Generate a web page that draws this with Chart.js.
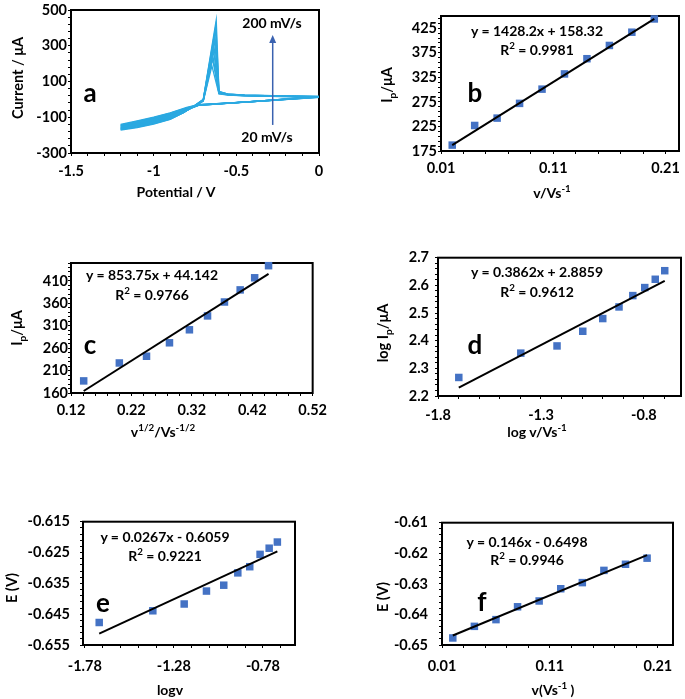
<!DOCTYPE html>
<html>
<head>
<meta charset="utf-8">
<script src="https://cdn.jsdelivr.net/npm/chart.js@4.4.0/dist/chart.umd.min.js"></script>
<style>
  html, body { margin: 0; background: #fff; overflow: hidden; }
  #fig { position: relative; width: 685px; height: 699px; overflow: hidden;
         font-family: Lato, 'Open Sans', sans-serif; font-weight: 700; color: #000; }
  canvas { position: absolute; }
  .t { position: absolute; white-space: nowrap; line-height: 1; font-size: 14px;
       transform: translate(-50%, -50%); }
  .rot { transform: translate(-50%, -50%) rotate(-90deg); font-size: 14.5px; }
  .big { font-size: 26px; }
  sup, sub { font-size: 70%; line-height: 0; }
</style>
</head>
<body>
<div id="fig">
  <canvas id="chartA"></canvas>
  <canvas id="chartB"></canvas>
  <canvas id="chartC"></canvas>
  <canvas id="chartD"></canvas>
  <canvas id="chartE"></canvas>
  <canvas id="chartF"></canvas>

  <!-- panel a -->
  <div class="t rot" style="left:18px; top:78px;">Current / μA</div>
  <div class="t" style="left:176px; top:192px;">Potential / V</div>
  <div class="t big" style="left:90px; top:92px;">a</div>
  <div class="t" style="left:272px; top:23px;">200 mV/s</div>
  <div class="t" style="left:267px; top:137px;">20 mV/s</div>

  <!-- panel b -->
  <div class="t rot" style="left:387px; top:85px;">I<sub>p</sub>/μA</div>
  <div class="t" style="left:552px; top:193px;">v/Vs<sup>-1</sup></div>
  <div class="t" style="left:537px; top:31px;">y = 1428.2x + 158.32</div>
  <div class="t" style="left:537px; top:50px;">R<sup>2</sup> = 0.9981</div>
  <div class="t big" style="left:475px; top:92px;">b</div>

  <!-- panel c -->
  <div class="t rot" style="left:17px; top:328px;">I<sub>p</sub>/μA</div>
  <div class="t" style="left:163px; top:432px;">v<sup>1/2</sup>/Vs<sup>-1/2</sup></div>
  <div class="t" style="left:152px; top:275px;">y = 853.75x + 44.142</div>
  <div class="t" style="left:152px; top:295px;">R<sup>2</sup> = 0.9766</div>
  <div class="t big" style="left:90px; top:344px;">c</div>

  <!-- panel d -->
  <div class="t rot" style="left:383px; top:333px;">log I<sub>p</sub>/μA</div>
  <div class="t" style="left:537px; top:432px;">log v/Vs<sup>-1</sup></div>
  <div class="t" style="left:537px; top:272px;">y = 0.3862x + 2.8859</div>
  <div class="t" style="left:537px; top:292px;">R<sup>2</sup> = 0.9612</div>
  <div class="t big" style="left:475px; top:344px;">d</div>

  <!-- panel e -->
  <div class="t rot" style="left:12px; top:588px;">E (V)</div>
  <div class="t" style="left:170px; top:690px;">logv</div>
  <div class="t" style="left:165px; top:537px;">y = 0.0267x - 0.6059</div>
  <div class="t" style="left:165px; top:556px;">R<sup>2</sup> = 0.9221</div>
  <div class="t big" style="left:103px; top:602px;">e</div>

  <!-- panel f -->
  <div class="t rot" style="left:383px; top:597px;">E (V)</div>
  <div class="t" style="left:553px; top:690px;">v(Vs<sup>-1</sup> )</div>
  <div class="t" style="left:527px; top:542px;">y = 0.146x - 0.6498</div>
  <div class="t" style="left:527px; top:560px;">R<sup>2</sup> = 0.9946</div>
  <div class="t big" style="left:482px; top:601px;">f</div>
</div>

<script>
// ---- data ----
const scanRate = [0.02, 0.04, 0.06, 0.08, 0.10, 0.12, 0.14, 0.16, 0.18, 0.20];
const sqrtScanRate = [0.141, 0.200, 0.245, 0.283, 0.316, 0.346, 0.374, 0.400, 0.424, 0.447];
const logScanRate = [-1.699, -1.398, -1.222, -1.097, -1.000, -0.921, -0.854, -0.796, -0.745, -0.699];
const peakCurrent = [187, 227, 242, 272, 301, 332, 363, 390, 417, 444];
const logPeakCurrent = [2.267, 2.355, 2.381, 2.434, 2.480, 2.522, 2.563, 2.592, 2.622, 2.653];
const peakPotential = [-0.6477, -0.6439, -0.6417, -0.6375, -0.6356, -0.6316, -0.6296, -0.6256, -0.6236, -0.6216];

// trendline end points
const fitBx = [0.02, 0.20],    fitBy = [186.9, 444.0];
const fitCx = [0.141, 0.447],  fitCy = [164.5, 425.8];
const fitDx = [-1.699, -0.699], fitDy = [2.230, 2.616];
const fitEx = [-1.699, -0.699], fitEy = [-0.6513, -0.6246];
const fitFx = [0.02, 0.20],    fitFy = [-0.6469, -0.6206];

// cyclic voltammograms: potential path (null = peak potential of that scan)
const cvPotential = [0, -0.35, -0.73, -0.8, -0.9, -1.0, -1.1, -1.2, -1.1, -1.0,
                     -0.9, -0.82, -0.76, -0.7, null, -0.605, -0.55, -0.45, -0.2, 0];
const cvCurrent = [
  [12, -10, -30, -45, -75, -100, -120, -140, -128, -113, -95, -70, -42, -10, 187, 30, 24, 20, 16, 12],
  [12, -10, -30, -47, -77, -102, -123, -144, -131, -116, -97, -71, -42, -9, 227, 32, 25, 20, 16, 12],
  [13, -10, -31, -49, -80, -105, -126, -147, -135, -119, -99, -71, -41, -8, 242, 34, 25, 21, 17, 13],
  [13, -9, -31, -51, -82, -107, -129, -151, -139, -122, -101, -72, -41, -7, 272, 36, 26, 21, 17, 13],
  [14, -9, -32, -52, -84, -110, -132, -155, -143, -125, -103, -72, -41, -5, 301, 37, 27, 22, 17, 14],
  [14, -9, -32, -54, -86, -112, -135, -158, -146, -128, -105, -73, -41, -4, 332, 39, 27, 22, 18, 14],
  [15, -9, -33, -55, -88, -114, -138, -162, -149, -131, -107, -73, -40, -3, 363, 40, 28, 23, 18, 15],
  [15, -8, -33, -57, -90, -116, -140, -165, -152, -133, -109, -74, -40, -2, 390, 42, 29, 23, 18, 15],
  [16, -8, -34, -58, -92, -118, -142, -168, -155, -136, -110, -74, -40, -1, 417, 43, 29, 24, 19, 16],
  [16, -8, -34, -60, -95, -120, -145, -172, -158, -138, -112, -75, -40, 0, 444, 45, 30, 24, 19, 16]
];
const arrowA = { x: -0.28, from: -143, to: 360 };

// tick labels
const aXLabels = ['-1.5', '-1', '-0.5', '0'];
const aYLabels = ['-300', '-100', '100', '300', '500'];
const bXLabels = ['0.01', '0.11', '0.21'];
const bYLabels = ['175', '225', '275', '325', '375', '425'];
const cXLabels = ['0.12', '0.22', '0.32', '0.42', '0.52'];
const cYLabels = ['160', '210', '260', '310', '360', '410'];
const dXLabels = ['-1.8', '-1.3', '-0.8'];
const dYLabels = ['2.2', '2.3', '2.4', '2.5', '2.6', '2.7'];
const eXLabels = ['-1.78', '-1.28', '-0.78'];
const eYLabels = ['-0.655', '-0.645', '-0.635', '-0.625', '-0.615'];
const fXLabels = ['0.01', '0.11', '0.21'];
const fYLabels = ['-0.65', '-0.64', '-0.63', '-0.62', '-0.61'];

// ---- drawing ----
const FONT = "Lato, 'Open Sans', sans-serif";
const Y_W = 64, X_H = 40, PAD_T = 10, PAD_R = 20;

const zip = (xs, ys) => xs.map((x, i) => ({ x: x, y: ys[i] }));

// box around the plot area
const frame = {
    id: 'frame',
    beforeDatasetsDraw(chart) {
        const { ctx, chartArea: a } = chart;
        ctx.save();
        ctx.strokeStyle = '#000';
        ctx.lineWidth = 2;
        ctx.strokeRect(a.left, a.top, a.right - a.left, a.bottom - a.top);
        ctx.restore();
    }
};

function buildAxis(c) {
    return {
        type: 'linear',
        min: c.min,
        max: c.max,
        afterBuildTicks: scale => {
            const start = parseFloat(c.labels[0]);
            const list = [];
            for (let k = -300; k <= 400; k++) {
                const v = +(start + k * c.minor).toFixed(6);
                if (v >= c.min - 1e-9 && v <= c.max + 1e-9) list.push({ value: v });
            }
            scale.ticks = list;
        },
        afterFit: scale => {
            if (scale.isHorizontal()) scale.height = X_H;
            else scale.width = Y_W;
        },
        grid: { drawOnChartArea: false, drawTicks: true, tickLength: 3, color: '#000', lineWidth: 1 },
        border: { display: true, color: '#000', width: 2 },
        ticks: {
            autoSkip: false,
            maxRotation: 0,
            minRotation: 0,
            padding: c.pad,
            color: '#000',
            font: { family: FONT, size: 14.5, weight: 'bold' },
            callback: value => {
                const hit = c.labels.find(s => Math.abs(parseFloat(s) - value) < c.minor / 10);
                return hit === undefined ? '' : hit;
            }
        }
    };
}

function makePanel(id, area, x, y, datasets, extraPlugins) {
    const cv = document.getElementById(id);
    cv.width = area.right - area.left + Y_W + PAD_R;
    cv.height = area.bottom - area.top + PAD_T + X_H;
    cv.style.left = (area.left - Y_W) + 'px';
    cv.style.top = (area.top - PAD_T) + 'px';
    return new Chart(cv, {
        type: 'scatter',
        data: { datasets: datasets },
        options: {
            responsive: false,
            animation: false,
            events: [],
            layout: { padding: { top: PAD_T, right: PAD_R, left: 0, bottom: 0 }, autoPadding: false },
            plugins: { legend: { display: false }, tooltip: { enabled: false } },
            scales: { x: buildAxis(x), y: buildAxis(y) }
        },
        plugins: [frame].concat(extraPlugins || [])
    });
}

function markers(xs, ys) {
    return {
        data: zip(xs, ys),
        pointStyle: 'rect',
        pointRadius: 5.3,
        backgroundColor: '#4472C4',
        borderColor: '#4472C4',
        borderWidth: 0,
        showLine: false,
        clip: false
    };
}

function fitLine(xs, ys) {
    return {
        data: zip(xs, ys),
        showLine: true,
        borderColor: '#000',
        borderWidth: 2,
        pointRadius: 0,
        clip: false
    };
}

// arrow annotation of panel a
const arrowPlugin = {
    id: 'arrow',
    afterDatasetsDraw(chart) {
        const { ctx, scales } = chart;
        const px = scales.x.getPixelForValue(arrowA.x);
        const y0 = scales.y.getPixelForValue(arrowA.from);
        const y1 = scales.y.getPixelForValue(arrowA.to);
        ctx.save();
        ctx.strokeStyle = '#3A62B0';
        ctx.fillStyle = '#3A62B0';
        ctx.lineWidth = 1.5;
        ctx.beginPath();
        ctx.moveTo(px, y0);
        ctx.lineTo(px, y1 + 6);
        ctx.stroke();
        ctx.beginPath();
        ctx.moveTo(px, y1);
        ctx.lineTo(px - 3.5, y1 + 8);
        ctx.lineTo(px + 3.5, y1 + 8);
        ctx.closePath();
        ctx.fill();
        ctx.restore();
    }
};

const cvDatasets = cvCurrent.map((cur, i) => ({
    data: cur.map((I, j) => ({ x: cvPotential[j] === null ? peakPotential[i] : cvPotential[j], y: I })),
    showLine: true,
    pointRadius: 0,
    borderColor: '#2BA9E1',
    borderWidth: 1.3,
    tension: 0
}));

makePanel('chartA', { left: 71, top: 10, right: 319, bottom: 153 },
    { min: -1.5, max: 0, minor: 0.1, labels: aXLabels, pad: 7 },
    { min: -300, max: 500, minor: 40, labels: aYLabels, pad: 1 },
    cvDatasets, [arrowPlugin]);

makePanel('chartB', { left: 441, top: 16, right: 679, bottom: 151 },
    { min: 0.01, max: 0.222, minor: 0.02, labels: bXLabels, pad: 6 },
    { min: 175, max: 450, minor: 10, labels: bYLabels, pad: 1 },
    [fitLine(fitBx, fitBy), markers(scanRate, peakCurrent)]);

makePanel('chartC', { left: 71, top: 263, right: 313, bottom: 393 },
    { min: 0.12, max: 0.52, minor: 0.02, labels: cXLabels, pad: 6 },
    { min: 160, max: 450, minor: 10, labels: cYLabels, pad: 0 },
    [fitLine(fitCx, fitCy), markers(sqrtScanRate, peakCurrent)]);

makePanel('chartD', { left: 438, top: 253, right: 681, bottom: 396 },
    { min: -1.8, max: -0.62, minor: 0.1, labels: dXLabels, pad: 8 },
    { min: 2.2, max: 2.7, minor: 0.02, labels: dYLabels, pad: 6 },
    [fitLine(fitDx, fitDy), markers(logScanRate, logPeakCurrent)]);

makePanel('chartE', { left: 83, top: 513, right: 295, bottom: 645 },
    { min: -1.79, max: -0.6, minor: 0.1, labels: eXLabels, pad: 10 },
    { min: -0.655, max: -0.615, minor: 0.002, labels: eYLabels, pad: 10 },
    [fitLine(fitEx, fitEy), markers(logScanRate, peakPotential)]);

makePanel('chartF', { left: 442, top: 513, right: 673, bottom: 645 },
    { min: 0.01, max: 0.224, minor: 0.02, labels: fXLabels, pad: 10 },
    { min: -0.65, max: -0.61, minor: 0.002, labels: fYLabels, pad: 11 },
    [fitLine(fitFx, fitFy), markers(scanRate, peakPotential)]);
</script>
</body>
</html>
